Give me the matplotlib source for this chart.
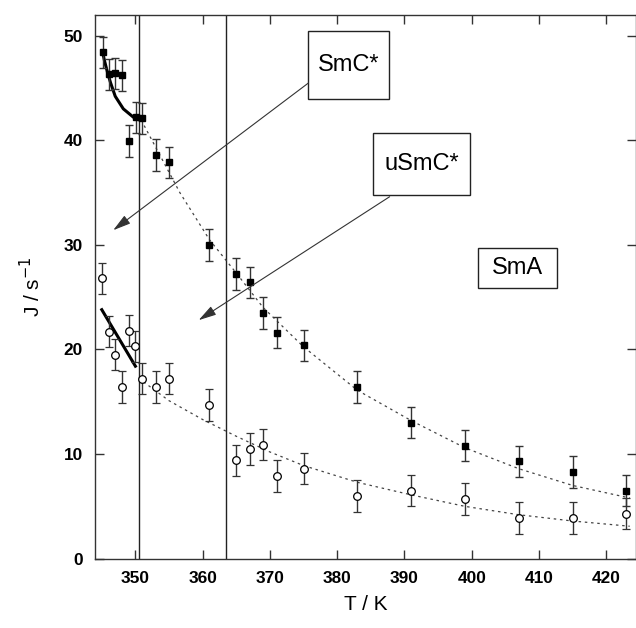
import matplotlib
matplotlib.use("Agg")
import matplotlib.pyplot as plt
from matplotlib.patches import Rectangle

plt.rcParams["font.family"] = ["Liberation Sans", "DejaVu Sans"]

# filled squares (upper series)
T_filled = [345.2, 346, 347, 348, 349, 350.1, 351, 353, 355, 361, 365, 367,
            369, 371, 375, 383, 391, 399, 407, 415, 423]
J_filled = [48.4, 46.3, 46.4, 46.2, 39.9, 42.2, 42.1, 38.6, 37.9, 30.0, 27.2,
            26.4, 23.5, 21.6, 20.4, 16.4, 13.0, 10.8, 9.3, 8.3, 6.5]
err_filled = [1.5, 1.5, 1.5, 1.5, 1.55, 1.5, 1.5, 1.5, 1.5, 1.5, 1.5, 1.5,
              1.5, 1.5, 1.5, 1.5, 1.5, 1.5, 1.5, 1.5, 1.5]

# open circles (lower series)
T_open = [345.1, 346, 347, 348, 349, 350, 351, 353, 355, 361, 365, 367,
          369, 371, 375, 383, 391, 399, 407, 415, 423]
J_open = [26.8, 21.7, 19.5, 16.4, 21.8, 20.3, 17.2, 16.4, 17.2, 14.7, 9.4,
          10.5, 10.9, 7.9, 8.6, 6.0, 6.5, 5.7, 3.9, 3.9, 4.3]
err_open = [1.5] * len(T_open)

# dotted fit curves
fitT_filled = [351.3, 356.6, 361, 365, 369, 375, 383, 391, 399, 407, 415, 423.5]
fitJ_filled = [41.4, 35.0, 30.5, 27.3, 24.0, 20.25, 16.1, 13.2, 10.6, 8.6, 7.0, 5.8]
fitT_open = [351.2, 355, 360, 365, 370, 375, 383, 391, 399, 407, 415, 423.5]
fitJ_open = [16.9, 15.1, 13.3, 11.7, 10.2, 8.9, 7.3, 6.1, 5.0, 4.2, 3.6, 3.1]

# thick solid lines in the SmC* range
smcT_filled = [345.1, 345.4, 345.8, 346.3, 347.0, 348.2, 349.7, 350.4]
smcJ_filled = [48.5, 47.6, 46.6, 45.5, 44.2, 43.0, 42.2, 42.0]
smcT_open = [345.0, 350.0]
smcJ_open = [23.8, 18.4]

# phase boundaries
T_transitions = [350.6, 363.4]

fig = plt.figure(figsize=(6.36, 6.28), dpi=100)
ax = fig.add_axes([0.150, 0.1104, 0.8502, 0.8662])

for t in T_transitions:
    ax.axvline(t, color="#222222", lw=1.0, zorder=1)

ax.plot(fitT_filled, fitJ_filled, ls=(0, (2, 3)), color="#444444", lw=0.9, zorder=2)
ax.plot(fitT_open, fitJ_open, ls=(0, (2, 3)), color="#444444", lw=0.9, zorder=2)
ax.plot(smcT_filled, smcJ_filled, color="black", lw=2.2, zorder=3)
ax.plot(smcT_open, smcJ_open, color="black", lw=2.2, zorder=3)

ax.errorbar(T_filled, J_filled, yerr=err_filled, fmt="s", ms=5, mfc="black",
            mec="black", ecolor="#333333", elinewidth=1.0, capsize=3,
            capthick=1.0, zorder=4)
ax.errorbar(T_open, J_open, yerr=err_open, fmt="o", ms=5.5, mfc="white",
            mec="black", mew=0.9, ecolor="#333333", elinewidth=1.0, capsize=3,
            capthick=1.0, zorder=4)

# phase label boxes
boxes = [
    ("SmC*", 375.7, 43.97, 387.65, 50.40),
    ("uSmC*", 385.36, 34.74, 399.78, 40.69),
    ("SmA", 400.97, 25.83, 412.74, 29.68),
]
for label, x0, y0, x1, y1 in boxes:
    ax.add_patch(Rectangle((x0, y0), x1 - x0, y1 - y0, fill=True, fc="white",
                           ec="#222222", lw=1.0, zorder=5))
    ax.text((x0 + x1) / 2, (y0 + y1) / 2, label, ha="center", va="center",
            fontsize=17, zorder=6)

arrow_kw = dict(arrowstyle="-|>,head_length=0.9,head_width=0.25",
                color="#333333", lw=0.8, shrinkA=0, shrinkB=0,
                mutation_scale=12)
ax.annotate("", xy=(346.7, 31.4), xytext=(375.7, 45.46), arrowprops=arrow_kw,
            zorder=5)
ax.annotate("", xy=(359.4, 22.8), xytext=(387.8, 34.6), arrowprops=arrow_kw,
            zorder=5)

ax.set_xlim(344.05, 424.45)
ax.set_ylim(0, 52)
ax.set_xticks([350, 360, 370, 380, 390, 400, 410, 420])
ax.set_yticks([0, 10, 20, 30, 40, 50])
ax.tick_params(direction="in", top=True, right=True, length=6.5, width=1.0,
               color="#333333", labelsize=12.4, pad=9)
for lab in ax.get_xticklabels() + ax.get_yticklabels():
    lab.set_fontweight("bold")
for sp in ax.spines.values():
    sp.set_color("#333333")
    sp.set_linewidth(1.0)

ax.set_xlabel("T / K", fontsize=15, labelpad=6)
ax.set_ylabel("J / s$^{-1}$", fontsize=15, labelpad=14)

fig.savefig("out.png", dpi=100)
